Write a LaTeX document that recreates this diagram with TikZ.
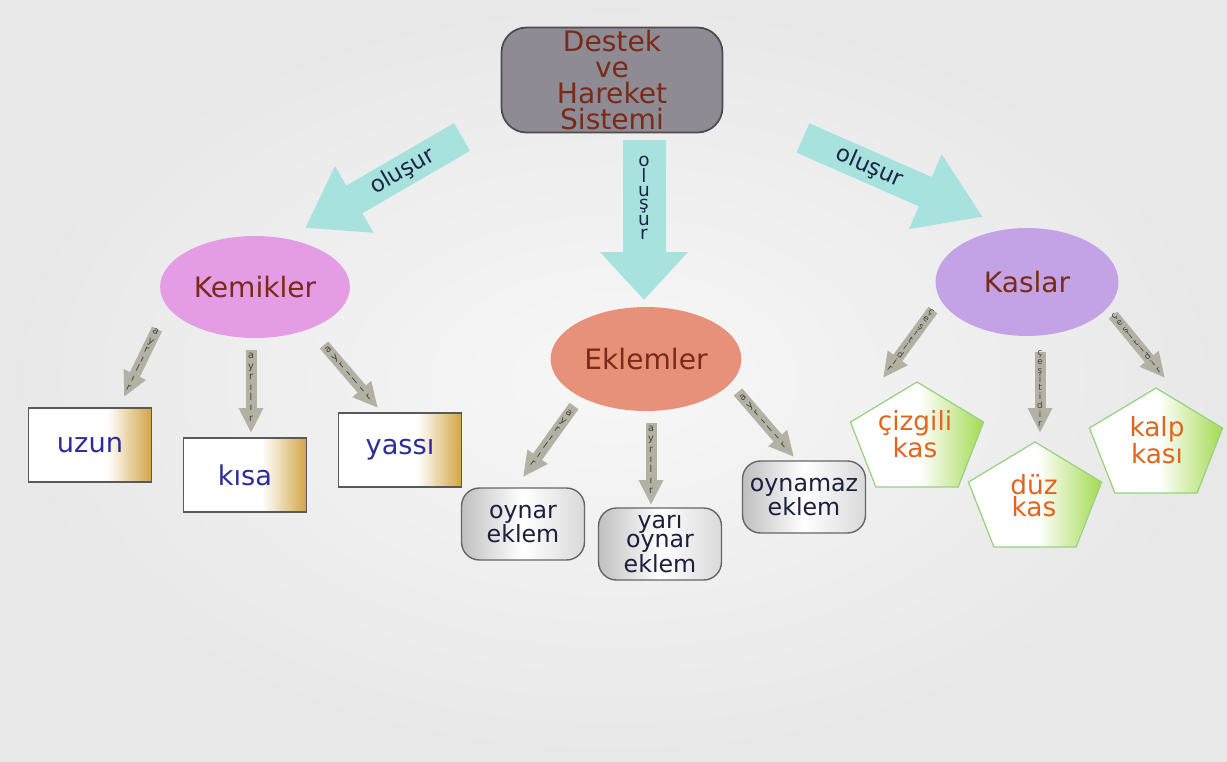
\documentclass[tikz,border=0pt]{standalone}
\usepackage{fontspec}
\setmainfont{DejaVu Sans}
\usetikzlibrary{shapes.geometric,arrows.meta,positioning}

\definecolor{bgin}{HTML}{F7F7F7}
\definecolor{bgout}{HTML}{E8E8E8}
\definecolor{cTop}{HTML}{8F8B95}
\definecolor{rust}{HTML}{7A2A17}
\definecolor{cKem}{HTML}{E49CE5}
\definecolor{cEkl}{HTML}{E8917A}
\definecolor{cKas}{HTML}{C3A2E6}
\definecolor{cCyan}{HTML}{A8E2DE}
\definecolor{cGray}{HTML}{B2B2A4}
\definecolor{cGold}{HTML}{D2A445}
\definecolor{cBlue}{HTML}{2E2C9A}
\definecolor{cInk}{HTML}{1E1E3E}
\definecolor{cGreen}{HTML}{A4DA52}
\definecolor{cPentLine}{HTML}{95D37F}
\definecolor{cOrange}{HTML}{E0661F}
\definecolor{cNavy}{HTML}{1D2444}

\pgfdeclarehorizontalshading{goldside}{100bp}{color(0bp)=(white); color(25bp)=(white); color(57bp)=(white); color(75bp)=(cGold); color(100bp)=(cGold)}
\pgfdeclarehorizontalshading{greenside}{100bp}{color(0bp)=(white); color(25bp)=(white); color(51bp)=(white); color(75bp)=(cGreen); color(100bp)=(cGreen)}

\begin{document}
\begin{tikzpicture}[x=0.02cm, y=-0.02cm,
  bubble/.style={ellipse, minimum width=3.66cm, minimum height=2.04cm, text=rust, font=\fontsize{16}{16}\selectfont},
  bonebox/.style={draw=black!65, line width=0.6pt, shade, shading=goldside, minimum width=2.46cm, minimum height=1.48cm, text=cBlue, font=\fontsize{15.5}{16}\selectfont},
  jointbox/.style={draw=black!60, line width=0.8pt, rounded corners=0.36cm, left color=gray!50, right color=gray!30, middle color=white, minimum width=2.46cm, minimum height=1.44cm, inner sep=1pt, align=center, text=cInk, font=\fontsize{13.5}{11}\selectfont},
  pentagon/.style={draw=cPentLine, line width=0.7pt, shade, shading=greenside},
  penttext/.style={align=center, text=cOrange, font=\fontsize{15}{12.5}\selectfont},
  cyanarrow/.style={draw=cCyan, line width=0.64cm, -{Triangle[length=1.14cm, width=1.46cm]}},
  grayarrow/.style={draw=cGray, line width=0.22cm, -{Triangle[length=0.5cm, width=0.46cm]}},
  olusur/.style={text=cNavy, font=\fontsize{13}{13}\selectfont},
  arrowtext/.style={align=center, text=black!75, inner sep=0pt, font=\fontsize{5.5}{5.9}\selectfont},
]
% background
\shade[inner color=bgin, outer color=bgout] (0,0) rectangle (1227,761);

% main concept
\node[draw=black!70, line width=1pt, fill=cTop, rounded corners=0.5cm, minimum width=4.42cm, minimum height=2.1cm, inner sep=1pt, align=center, text=rust, font=\fontsize{16}{14.8}\selectfont] (sys) at (612,80) {Destek\\ve\\Hareket\\Sistemi};

% three parts
\node[bubble, fill=cKem] (kem) at (255,287) {Kemikler};
\node[bubble, fill=cEkl, minimum height=2.08cm] (ekl) at (646,359) {Eklemler};
\node[bubble, fill=cKas, minimum height=2.16cm] (kas) at (1027,282) {Kaslar};

% bones
\node[bonebox] (uzun) at (90,445) {uzun};
\node[bonebox] (kisa) at (245,475) {kısa};
\node[bonebox] (yassi) at (400,450) {yassı};

% joints
\node[jointbox] (oynar) at (523,524) {oynar\\eklem};
\node[jointbox] (yari) at (660,544) {yarı\\oynar\\eklem};
\node[jointbox] (oynamaz) at (804,497) {oynamaz\\eklem};

% muscles
\draw[pentagon] (917,440) +(-90:70 and 58) -- +(-18:70 and 58) -- +(54:70 and 58) -- +(126:70 and 58) -- +(198:70 and 58) -- cycle;
\draw[pentagon] (1035,500) +(-90:70 and 58) -- +(-18:70 and 58) -- +(54:70 and 58) -- +(126:70 and 58) -- +(198:70 and 58) -- cycle;
\draw[pentagon] (1156,446) +(-90:70 and 58) -- +(-18:70 and 58) -- +(54:70 and 58) -- +(126:70 and 58) -- +(198:70 and 58) -- cycle;
\node[penttext] (ciz) at (915,434) {çizgili\\kas};
\node[penttext] (duz) at (1034,496) {düz\\kas};
\node[penttext] (kalp) at (1157,440) {kalp\\kası};

% olusur arrows
\draw[cyanarrow] ([shift={(-150,57)}]sys.center) -- ([shift={(50,-59)}]kem.center) node[olusur, pos=.38, sloped] {oluşur};
\draw[cyanarrow, line width=0.86cm, -{Triangle[length=0.96cm, width=1.7cm]}] ([shift={(32,60)}]sys.center) -- ([shift={(-2,-59)}]ekl.center) node[olusur, pos=.36, align=center, font=\fontsize{10.5}{7.8}\selectfont] {o\\l\\u\\ş\\u\\r};
\draw[cyanarrow, -{Triangle[length=1.26cm, width=1.54cm]}] ([shift={(191,58)}]sys.center) -- ([shift={(-44,-65)}]kas.center) node[olusur, pos=.37, sloped] {oluşur};

% ayrilir / cesitidir arrows
\draw[grayarrow] ([shift={(-98,42)}]kem.center) -- ([shift={(34,-48)}]uzun.center) node[arrowtext, pos=.45, rotate=-26] {a\\y\\r\\ı\\l\\ı\\r};
\draw[grayarrow] ([shift={(-4,63)}]kem.center) -- ([shift={(6,-42)}]kisa.center) node[arrowtext, pos=.45] {a\\y\\r\\ı\\l\\ı\\r};
\draw[grayarrow] ([shift={(69,58)}]kem.center) -- ([shift={(-22,-42)}]yassi.center) node[arrowtext, pos=.45, rotate=40.6] {a\\y\\r\\ı\\l\\ı\\r};

\draw[grayarrow] ([shift={(-72,47)}]ekl.center) -- ([shift={(0,-47)}]oynar.center) node[arrowtext, pos=.45, rotate=-35.7] {a\\y\\r\\ı\\l\\ı\\r};
\draw[grayarrow] ([shift={(5,64)}]ekl.center) -- ([shift={(-9,-39)}]yari.center) node[arrowtext, pos=.45] {a\\y\\r\\ı\\l\\ı\\r};
\draw[grayarrow] ([shift={(92,33)}]ekl.center) -- ([shift={(-10,-40)}]oynamaz.center) node[arrowtext, pos=.45, rotate=40.7] {a\\y\\r\\ı\\l\\ı\\r};

\draw[grayarrow] ([shift={(-94,28)}]kas.center) -- ([shift={(-32,-56)}]ciz.center) node[arrowtext, pos=.45, rotate=-36.3, font=\fontsize{5}{5}\selectfont] {ç\\e\\ş\\i\\t\\i\\d\\i\\r};
\draw[grayarrow] ([shift={(13,70)}]kas.center) -- ([shift={(6,-63)}]duz.center) node[arrowtext, pos=.45, font=\fontsize{5}{5}\selectfont] {ç\\e\\ş\\i\\t\\i\\d\\i\\r};
\draw[grayarrow] ([shift={(86,33)}]kas.center) -- ([shift={(8,-62)}]kalp.center) node[arrowtext, pos=.45, rotate=39.5, font=\fontsize{5}{5}\selectfont] {ç\\e\\ş\\i\\t\\i\\d\\i\\r};
\end{tikzpicture}
\end{document}
